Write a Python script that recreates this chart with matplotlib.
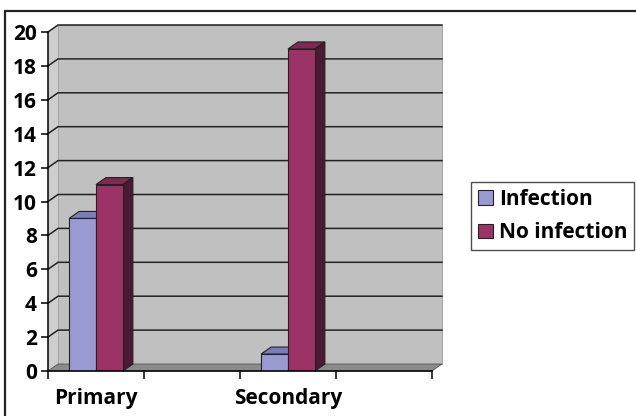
import matplotlib.pyplot as plt
import numpy as np
from matplotlib.lines import Line2D
from matplotlib.patches import Patch, Polygon, Rectangle

plt.rcParams["font.family"] = ["Open Sans", "DejaVu Sans"]
plt.rcParams["font.weight"] = "bold"

# data: 4 category slots, only every second one labelled (as in the source chart)
categories = ["Primary", "", "Secondary", ""]
infection = [9, np.nan, 1, np.nan]
no_infection = [11, np.nan, 19, np.nan]
y_ticks = [0, 2, 4, 6, 8, 10, 12, 14, 16, 18, 20]

INF_FRONT, INF_TOP, INF_SIDE = "#9a9ad2", "#7c7cbc", "#54548c"
NOI_FRONT, NOI_TOP, NOI_SIDE = "#9b3366", "#7d2a55", "#4a1932"
WALL = "#c0c0c0"
SIDE_WALL = "#cdcdcd"
FLOOR = "#8a8a8a"

W, H = 636, 416
fig = plt.figure(figsize=(W / 100, H / 100), dpi=100)
ax = fig.add_axes([48 / W, 1 - 371 / H, 384 / W, 339 / H])
n = len(categories)
ymax = y_ticks[-1]
ax.set_xlim(0, n)
ax.set_ylim(0, ymax)

# 3d depth offset in data units (about 10px right, 7px up)
DX = 10 / (384 / n)
DY = 7 / (339 / ymax)

# back wall, side wall, floor
ax.add_patch(Polygon([(DX, DY), (n + DX, DY), (n + DX, ymax + DY), (DX, ymax + DY)],
                     closed=True, fc=WALL, ec="#9a9a9a", lw=0.6, zorder=0, clip_on=False))
ax.add_patch(Polygon([(0, 0), (DX, DY), (DX, ymax + DY), (0, ymax)],
                     closed=True, fc=SIDE_WALL, ec="none", zorder=0, clip_on=False))
ax.add_patch(Polygon([(0, 0), (n, 0), (n + DX, DY), (DX, DY)],
                     closed=True, fc=FLOOR, ec="#555555", lw=0.6, zorder=1, clip_on=False))

# gridlines on the walls
for v in y_ticks[1:]:
    ax.add_line(Line2D([0, DX, n + DX], [v, v + DY, v + DY], color="#222222", lw=1.1,
                       zorder=0.5, clip_on=False))

x = np.arange(n) + 0.5
bw = 0.28


def draw_bars(xpos, vals, front, top, side, z):
    bars = ax.bar(xpos, vals, bw, color=front, edgecolor="#222222", lw=0.8, zorder=z + 0.2)
    for rect, v in zip(bars, vals):
        if np.isnan(v):
            continue
        x0, w, h = rect.get_x(), rect.get_width(), rect.get_height()
        ax.add_patch(Polygon([(x0, h), (x0 + w, h), (x0 + w + DX, h + DY), (x0 + DX, h + DY)],
                             closed=True, fc=top, ec="#222222", lw=0.8, zorder=z, clip_on=False))
        ax.add_patch(Polygon([(x0 + w, 0), (x0 + w + DX, DY), (x0 + w + DX, h + DY), (x0 + w, h)],
                             closed=True, fc=side, ec="#222222", lw=0.8, zorder=z, clip_on=False))


draw_bars(x - bw / 2, infection, INF_FRONT, INF_TOP, INF_SIDE, 2)
draw_bars(x + bw / 2, no_infection, NOI_FRONT, NOI_TOP, NOI_SIDE, 3)

# axes
for s in ["top", "right"]:
    ax.spines[s].set_visible(False)
for s in ["left", "bottom"]:
    ax.spines[s].set_linewidth(1.1)
    ax.spines[s].set_zorder(5)
ax.set_yticks(y_ticks)
ax.tick_params(axis="y", length=5, width=1.1, pad=3, labelsize=15)
ax.set_xticks(np.arange(n + 1))
ax.set_xticklabels([])
ax.tick_params(axis="x", which="major", length=6, width=1.1)
ax.set_xticks(x, minor=True)
ax.set_xticklabels(categories, minor=True)
ax.tick_params(axis="x", which="minor", length=0, pad=12, labelsize=15)
for lbl in ax.get_yticklabels() + ax.get_xticklabels(minor=True):
    lbl.set_fontweight("bold")

# legend
handles = [Patch(fc=INF_FRONT, ec="#222222", lw=0.8, label="Infection"),
           Patch(fc=NOI_FRONT, ec="#222222", lw=0.8, label="No infection")]
leg = fig.legend(handles=handles, loc="center left", bbox_to_anchor=(471 / W, 1 - 216 / H),
                 frameon=True, fancybox=False, fontsize=15, handlelength=0.72, handleheight=0.72,
                 handletextpad=0.3, borderpad=0.32, labelspacing=0.6, borderaxespad=0)
leg.get_frame().set_edgecolor("#222222")
leg.get_frame().set_linewidth(1.0)
for t in leg.get_texts():
    t.set_fontweight("bold")

# outer chart border
fig.patches.append(Rectangle((5 / W, -0.1), 1.0, 1 - 11 / H + 0.1, transform=fig.transFigure,
                             fill=False, ec="#222222", lw=1.6))

fig.savefig("out.png", dpi=100, facecolor="white")
plt.close(fig)
